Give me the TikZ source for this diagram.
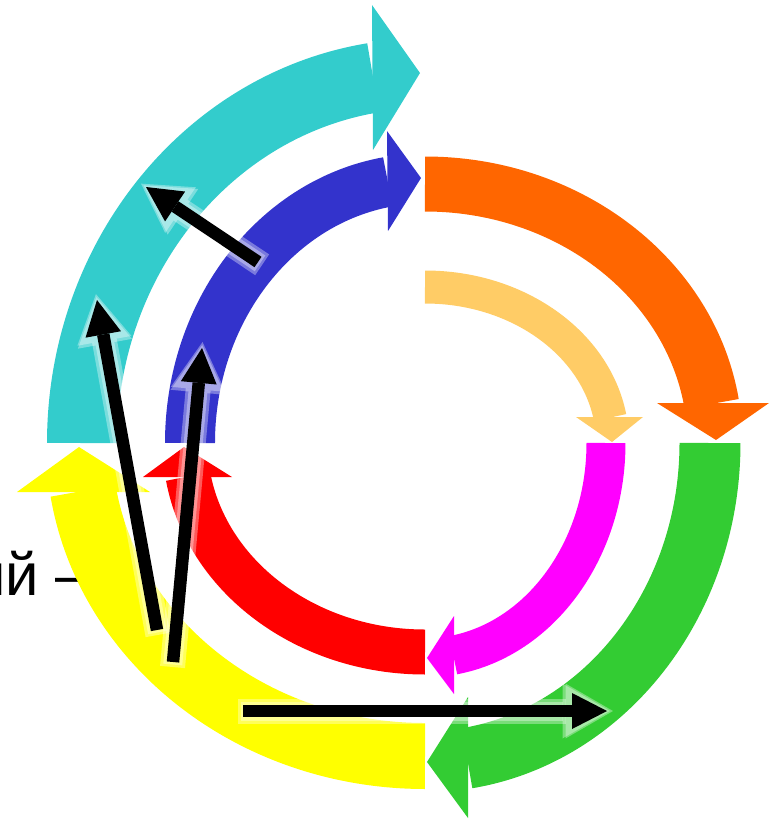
\documentclass[tikz,border=0pt]{standalone}
\usepackage{fontspec}
\newfontfamily\labelfont{Liberation Sans}
\usetikzlibrary{arrows.meta}
\definecolor{cyanband}{HTML}{33CCCC}
\definecolor{blueband}{HTML}{3333CC}
\definecolor{orangeband}{HTML}{FF6600}
\definecolor{paleband}{HTML}{FFCC66}
\definecolor{greenband}{HTML}{33CC33}
\definecolor{magband}{HTML}{FF00FF}
\definecolor{redband}{HTML}{FF0000}
\definecolor{yellowband}{HTML}{FFFF00}
\tikzset{
  band/.style={line cap=butt},
  ptr/.style={black, line width=0.25cm, -{Triangle[length=0.7cm,width=0.72cm,line width=0pt]}},
  halo/.style={white, opacity=0.35, line width=0.5cm, shorten >=-0.12cm, shorten <=-0.1cm,
    -{Triangle[length=0.95cm,width=1.1cm,line width=0pt]}},
  lbl/.style={font=\labelfont\fontsize{34}{40}\selectfont, inner sep=0pt}
}
\begin{document}
\begin{tikzpicture}[x=0.02cm, y=-0.02cm]
  \useasboundingbox (0,0) rectangle (775,819);
  \clip (0,0) rectangle (775,819);
  % cut-off caption on the left
  \node[lbl, anchor=base west] (cap) at (-28,595) {ий –};
  % outer ring
  \draw[band, cyanband, line width=1.4cm]
    (82,443) arc[start angle=180, end angle=261.3, x radius=343, y radius=369.5];
  \fill[cyanband] (372,5) -- (420,73) -- (373,150) -- cycle;
  \draw[band, orangeband, line width=1.1cm]
    (425,184) arc[start angle=270, end angle=351.3, x radius=290, y radius=259];
  \fill[orangeband] (657,403) -- (716,440) -- (769,403) -- cycle;
  \draw[band, greenband, line width=1.22cm]
    (710,443) arc[start angle=0, end angle=81.5, x radius=285, y radius=318.7];
  \fill[greenband] (468,697) -- (427,762) -- (468,818) -- cycle;
  \draw[band, yellowband, line width=1.32cm]
    (425,756) arc[start angle=90, end angle=171.2, x radius=346, y radius=313];
  \fill[yellowband] (17,492) -- (79,447) -- (150,492) -- cycle;
  % middle ring
  \draw[band, blueband, line width=1.0cm]
    (190,443) arc[start angle=180, end angle=260.9, x radius=235, y radius=264.5];
  \fill[blueband] (387,131) -- (421,178) -- (388,231) -- cycle;
  \draw[band, magband, line width=0.78cm]
    (606,443) arc[start angle=0, end angle=81, x radius=181, y radius=214.8];
  \fill[magband] (454,616) -- (427,658) -- (454,694) -- cycle;
  \draw[band, redband, line width=0.9cm]
    (425,652) arc[start angle=90, end angle=170.8, x radius=240, y radius=209];
  \fill[redband] (143,477) -- (184,447) -- (232,477) -- cycle;
  % inner arrow
  \draw[band, paleband, line width=0.66cm]
    (425,287) arc[start angle=270, end angle=350.6, x radius=187.6, y radius=156];
  \fill[paleband] (576,417) -- (612,442) -- (643,417) -- cycle;
  % black pointers
  \coordinate (t1) at (258,262); \coordinate (h1) at (146,187);
  \coordinate (t2) at (157,630); \coordinate (h2) at (97,300);
  \coordinate (t3) at (173,662); \coordinate (h3) at (202,348);
  \coordinate (t4) at (243,711); \coordinate (h4) at (607,711);
  \foreach \i in {1,...,4} {
    \draw[halo] (t\i) -- (h\i);
    \draw[halo, line width=0.38cm, shorten >=-0.06cm, shorten <=-0.05cm] (t\i) -- (h\i);
    \draw[ptr] (t\i) -- (h\i);
  }
\end{tikzpicture}
\end{document}
